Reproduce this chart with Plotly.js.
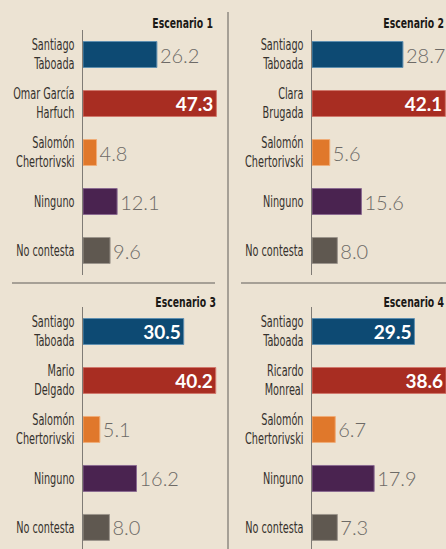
<!DOCTYPE html>
<html>
<head>
<meta charset="utf-8">
<script src="https://cdn.plot.ly/plotly-3.0.1.min.js"></script>
<style>
  html, body { margin: 0; padding: 0; background: #ece3d3; }
  #chart { width: 446px; height: 549px; }
</style>
</head>
<body>
<div id="chart"></div>
<script>
// categories per scenario (label for the second row changes)
const labels1 = ["Santiago<br>Taboada", "Omar García<br>Harfuch", "Salomón<br>Chertorivski", "Ninguno", "No contesta"];
const labels2 = ["Santiago<br>Taboada", "Clara<br>Brugada", "Salomón<br>Chertorivski", "Ninguno", "No contesta"];
const labels3 = ["Santiago<br>Taboada", "Mario<br>Delgado", "Salomón<br>Chertorivski", "Ninguno", "No contesta"];
const labels4 = ["Santiago<br>Taboada", "Ricardo<br>Monreal", "Salomón<br>Chertorivski", "Ninguno", "No contesta"];

const values1 = [26.2, 47.3, 4.8, 12.1, 9.6];
const values2 = [28.7, 42.1, 5.6, 15.6, 8.0];
const values3 = [30.5, 40.2, 5.1, 16.2, 8.0];
const values4 = [29.5, 38.6, 6.7, 17.9, 7.3];

const scenarioTitles = ["Escenario 1", "Escenario 2", "Escenario 3", "Escenario 4"];
const barColors = ["#0d4a73", "#a82d22", "#e0782b", "#4a2350", "#5f5850"];
const edgeColors = ["#5f8fb0", "#d0786c", "#f0ad78", "#8a6a90", "#9c958c"];

const W = 446, H = 549;
const px = v => v / W;
const py = v => 1 - v / H;
const narrow = "DejaVu Sans Condensed, Liberation Sans Narrow, Arial Narrow, sans-serif";

function makeTrace(labels, values, n, insideIdx) {
  const pos = values.map((v, i) => insideIdx.includes(i) ? "inside" : "outside");
  return {
    type: "bar",
    orientation: "h",
    x: values,
    y: labels,
    xaxis: n === 1 ? "x" : "x" + n,
    yaxis: n === 1 ? "y" : "y" + n,
    width: 0.53,
    marker: { color: barColors, line: { color: edgeColors, width: 1 } },
    text: values.map(v => v.toFixed(1)),
    textposition: pos,
    insidetextanchor: "end",
    insidetextfont: { family: "Lato, sans-serif", size: 19, color: "#ffffff", weight: 700 },
    outsidetextfont: { family: "Lato, sans-serif", size: 20, color: "#6d6a66", weight: 300 },
    cliponaxis: false,
    constraintext: "none",
    hoverinfo: "none",
    showlegend: false
  };
}

const traces = [
  makeTrace(labels1, values1, 1, [1]),
  makeTrace(labels2, values2, 2, [1]),
  makeTrace(labels3, values3, 3, [0, 1]),
  makeTrace(labels4, values4, 4, [0, 1])
];

function xAxis(x0, x1, maxVal, anchor) {
  return {
    domain: [px(x0), px(x1)],
    range: [0, maxVal],
    anchor: anchor,
    visible: false,
    fixedrange: true
  };
}

function yAxis(top, bottom, range, anchor) {
  return {
    domain: [py(bottom), py(top)],
    range: range,
    type: "category",
    anchor: anchor,
    showgrid: false,
    zeroline: false,
    showline: true,
    linecolor: "#7f7b75",
    linewidth: 1.5,
    ticks: "",
    ticklabelstandoff: 4,
    tickfont: { family: narrow, size: 15, color: "#35312d" },
    fixedrange: true
  };
}

const titleAnn = (text, x, y) => ({
  text: "<b>" + text + "</b>",
  xref: "paper", yref: "paper",
  x: px(x), y: py(y),
  xanchor: "right", yanchor: "middle",
  showarrow: false,
  font: { family: narrow, size: 14, color: "#1a1816" }
});

const lineColor = "#8f8a82";

const layout = {
  width: W,
  height: H,
  margin: { l: 0, r: 0, t: 0, b: 0 },
  paper_bgcolor: "#ece3d3",
  plot_bgcolor: "rgba(0,0,0,0)",
  xaxis: xAxis(83, 224, 50, "y"),
  yaxis: yAxis(30, 275, [4.5, -0.5], "x"),
  xaxis2: xAxis(312, 446, 42.3, "y2"),
  yaxis2: yAxis(30, 275, [4.5, -0.5], "x2"),
  xaxis3: xAxis(83, 224, 42.7, "y3"),
  yaxis3: yAxis(307, 549, [4.44, -0.5], "x3"),
  xaxis4: xAxis(312, 446, 38.6, "y4"),
  yaxis4: yAxis(307, 549, [4.44, -0.5], "x4"),
  annotations: [
    titleAnn(scenarioTitles[0], 215, 23),
    titleAnn(scenarioTitles[1], 446, 23),
    titleAnn(scenarioTitles[2], 218, 302),
    titleAnn(scenarioTitles[3], 446, 302)
  ],
  shapes: [
    { type: "line", xref: "paper", yref: "paper", x0: px(228), x1: px(228), y0: py(12), y1: py(549),
      line: { color: lineColor, width: 1.5 } },
    { type: "line", xref: "paper", yref: "paper", x0: px(12), x1: px(215), y0: py(283), y1: py(283),
      line: { color: lineColor, width: 1.5 } },
    { type: "line", xref: "paper", yref: "paper", x0: px(241), x1: px(446), y0: py(283), y1: py(283),
      line: { color: lineColor, width: 1.5 } }
  ]
};

// squeeze text horizontally around its right edge (reference uses a compressed face)
function condense(selector, factor) {
  document.querySelectorAll(selector).forEach(t => {
    const b = t.getBBox();
    const r = b.x + b.width;
    const prev = t.getAttribute("transform") || "";
    t.setAttribute("transform",
      prev + " translate(" + r + ",0) scale(" + factor + ",1) translate(" + (-r) + ",0)");
  });
}

Plotly.newPlot("chart", traces, layout, { displayModeBar: false, staticPlot: true })
  .then(() => {
    condense("#chart .yaxislayer-above text", 0.72);
    condense("#chart .annotation-text", 0.74);
  });
</script>
</body>
</html>
